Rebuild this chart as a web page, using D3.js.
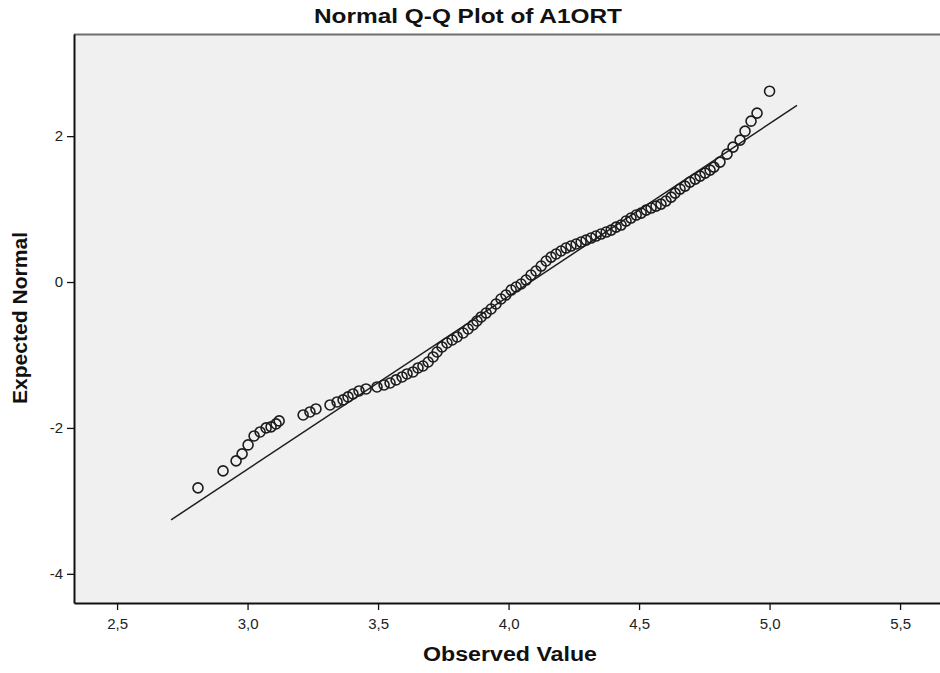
<!DOCTYPE html>
<html>
<head>
<meta charset="utf-8">
<script src="https://cdn.jsdelivr.net/npm/d3@7"></script>
<style>
  body { margin: 0; background: #fff; }
  svg { display: block; font-family: "Liberation Sans", Arial, sans-serif; }
</style>
</head>
<body>
<script>
const observed = [
  2.810, 2.906, 2.956, 2.979, 3.002, 3.025, 3.048, 3.071, 3.090, 3.109,
  3.121, 3.213, 3.239, 3.262, 3.316, 3.343, 3.366, 3.385, 3.404, 3.427,
  3.454, 3.496, 3.523, 3.546, 3.569, 3.592, 3.611, 3.634, 3.653, 3.672,
  3.692, 3.711, 3.726, 3.745, 3.764, 3.784, 3.803, 3.826, 3.845, 3.864,
  3.879, 3.895, 3.914, 3.933, 3.952, 3.971, 3.990, 4.010, 4.029, 4.048,
  4.067, 4.086, 4.105, 4.125, 4.144, 4.163, 4.182, 4.201, 4.220, 4.239,
  4.259, 4.278, 4.297, 4.316, 4.335, 4.354, 4.374, 4.393, 4.412, 4.431,
  4.450, 4.469, 4.489, 4.508, 4.527, 4.546, 4.565, 4.584, 4.603, 4.623,
  4.638, 4.657, 4.676, 4.695, 4.715, 4.734, 4.753, 4.772, 4.787, 4.810,
  4.837, 4.860, 4.887, 4.906, 4.929, 4.952, 5.000,
];
const expected = [
  -2.822, -2.589, -2.452, -2.356, -2.233, -2.110, -2.055, -2.000, -1.986, -1.945,
  -1.904, -1.822, -1.781, -1.740, -1.685, -1.644, -1.616, -1.575, -1.534, -1.493,
  -1.466, -1.438, -1.411, -1.384, -1.342, -1.301, -1.260, -1.233, -1.178, -1.151,
  -1.096, -1.027, -0.959, -0.890, -0.836, -0.795, -0.753, -0.699, -0.644, -0.589,
  -0.534, -0.479, -0.425, -0.370, -0.301, -0.233, -0.178, -0.110, -0.068, -0.027,
  0.027, 0.096, 0.151, 0.219, 0.288, 0.342, 0.384, 0.425, 0.466, 0.493,
  0.521, 0.548, 0.575, 0.603, 0.630, 0.658, 0.685, 0.712, 0.753, 0.781,
  0.836, 0.877, 0.918, 0.945, 0.986, 1.014, 1.041, 1.068, 1.110, 1.164,
  1.219, 1.274, 1.315, 1.370, 1.411, 1.452, 1.493, 1.534, 1.575, 1.644,
  1.753, 1.849, 1.945, 2.068, 2.205, 2.315, 2.616,
];

// end points of the normal reference line
const lineObserved = [2.707, 5.105];
const lineExpected = [-3.26, 2.42];

// tick values
const xTicks = [2.5, 3.0, 3.5, 4.0, 4.5, 5.0, 5.5];
const yTicks = [-4, -2, 0, 2];

const width = 940;
const height = 673;
const margin = { top: 34, right: 0, bottom: 70, left: 74 };

const svg = d3
  .select('body')
  .append('svg')
  .attr('width', width)
  .attr('height', height);

// set the ranges
const x = d3
  .scaleLinear()
  .domain([2.335, 5.653])
  .range([margin.left, width - margin.right]);
const y = d3
  .scaleLinear()
  .domain([-4.4, 3.4])
  .range([height - margin.bottom, margin.top]);

// plot background
svg
  .append('rect')
  .attr('x', margin.left)
  .attr('y', margin.top)
  .attr('width', width - margin.left - margin.right)
  .attr('height', height - margin.top - margin.bottom)
  .attr('fill', '#f0f0f0');

// top frame line
svg
  .append('line')
  .attr('x1', margin.left)
  .attr('x2', width)
  .attr('y1', margin.top + 0.5)
  .attr('y2', margin.top + 0.5)
  .attr('stroke', '#6e6e6e')
  .attr('stroke-width', 2);

// reference line
svg
  .append('line')
  .attr('x1', x(lineObserved[0]))
  .attr('y1', y(lineExpected[0]))
  .attr('x2', x(lineObserved[1]))
  .attr('y2', y(lineExpected[1]))
  .attr('stroke', '#1e1e1e')
  .attr('stroke-width', 1.5);

// Add the points
svg
  .append('g')
  .selectAll('circle')
  .data(observed)
  .enter()
  .append('circle')
  .attr('cx', d => x(d))
  .attr('cy', (d, i) => y(expected[i]))
  .attr('r', 5)
  .attr('fill', 'none')
  .attr('stroke', '#1c1c1c')
  .attr('stroke-width', 1.6);

// Add the X Axis
const xAxis = svg
  .append('g')
  .attr('transform', `translate(0,${height - margin.bottom})`)
  .call(d3.axisBottom(x)
    .tickValues(xTicks)
    .tickSize(7)
    .tickSizeOuter(0)
    .tickPadding(8)
    .tickFormat(d => d.toFixed(1).replace('.', ',')));

// Add the Y Axis
const yAxis = svg
  .append('g')
  .attr('transform', `translate(${margin.left},0)`)
  .call(d3.axisLeft(y)
    .tickValues(yTicks)
    .tickSize(7)
    .tickSizeOuter(0)
    .tickPadding(4)
    .tickFormat(d => String(d)));

[xAxis, yAxis].forEach((g) => {
  g.select('.domain').attr('stroke', '#111').attr('stroke-width', 2);
  g.selectAll('.tick line').attr('stroke', '#111').attr('stroke-width', 1.3);
  g.selectAll('.tick text')
    .attr('fill', '#222')
    .style('font-size', '15px')
    .style('font-family', '"Liberation Sans Narrow", "Liberation Sans", Arial, sans-serif');
});

// title
svg
  .append('text')
  .attr('x', 468)
  .attr('y', 23)
  .attr('text-anchor', 'middle')
  .attr('textLength', 308)
  .attr('lengthAdjust', 'spacingAndGlyphs')
  .style('font-size', '20px')
  .style('font-weight', 'bold')
  .style('font-family', '"Liberation Sans Narrow", "Liberation Sans", Arial, sans-serif')
  .attr('fill', '#111')
  .text('Normal Q-Q Plot of A1ORT');

// text label for the x axis
svg
  .append('text')
  .attr('x', 510)
  .attr('y', 661)
  .attr('text-anchor', 'middle')
  .attr('textLength', 174)
  .attr('lengthAdjust', 'spacingAndGlyphs')
  .style('font-size', '20px')
  .style('font-weight', 'bold')
  .style('font-family', '"Liberation Sans Narrow", "Liberation Sans", Arial, sans-serif')
  .attr('fill', '#111')
  .text('Observed Value');

// text label for the y axis
svg
  .append('text')
  .attr('transform', 'translate(27,318) rotate(-90)')
  .attr('text-anchor', 'middle')
  .attr('textLength', 172)
  .attr('lengthAdjust', 'spacingAndGlyphs')
  .style('font-size', '20px')
  .style('font-weight', 'bold')
  .style('font-family', '"Liberation Sans Narrow", "Liberation Sans", Arial, sans-serif')
  .attr('fill', '#111')
  .text('Expected Normal');
</script>
</body>
</html>
